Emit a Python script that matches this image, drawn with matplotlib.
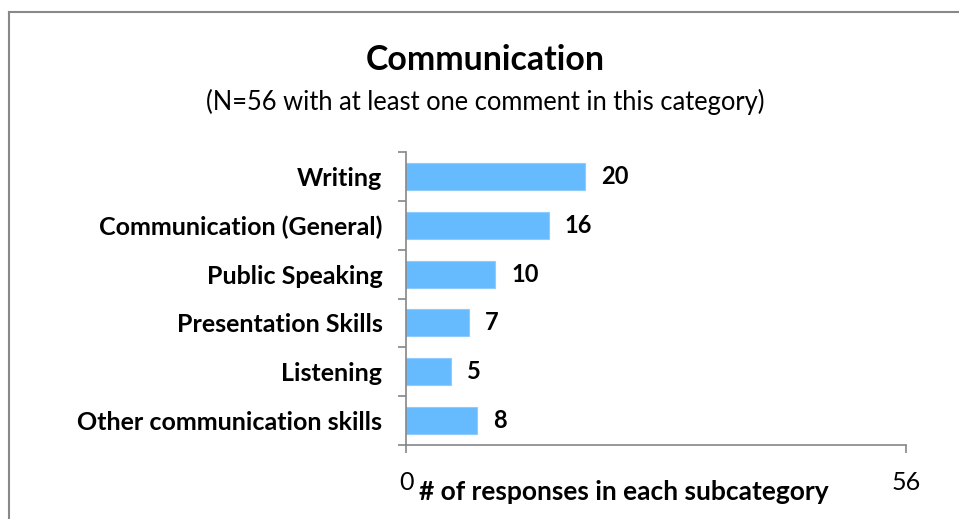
import matplotlib.pyplot as plt
from matplotlib.lines import Line2D

categories = ['Writing', 'Communication (General)', 'Public Speaking',
              'Presentation Skills', 'Listening', 'Other communication skills']
counts = [20, 16, 10, 7, 5, 8]
n_total = 56

plt.rcParams['font.family'] = ['Lato', 'DejaVu Sans']

fig = plt.figure(figsize=(9.59, 5.19), dpi=100)
ax = fig.add_axes([0.4234, 0.1426, 0.5214, 0.5645])

ypos = list(range(len(categories)))
ax.barh(ypos, counts, height=0.55, color='#66BBFF', edgecolor='#8FCBFF', linewidth=0.8)
ax.set_ylim(len(categories) - 0.5, -0.5)
ax.set_xlim(0, n_total)

for y, v in zip(ypos, counts):
    ax.text(v + 1.8, y, str(v), va='center', ha='left', fontsize=17, fontweight='bold')

ax.set_yticks(ypos)
ax.set_yticklabels(categories, fontsize=18, fontweight='bold')
ax.tick_params(axis='y', length=0, pad=17)
# category separator ticks on the left axis
ax.set_yticks([i - 0.5 for i in range(len(categories) + 1)], minor=True)
ax.tick_params(axis='y', which='minor', length=6, color='#868686', width=1.2)

ax.set_xticks([0, n_total])
ax.set_xticklabels(['0', str(n_total)], fontsize=18)
ax.tick_params(axis='x', length=6, color='#868686', width=1.2, pad=13)

for s in ['top', 'right']:
    ax.spines[s].set_visible(False)
for s in ['left', 'bottom']:
    ax.spines[s].set_color('#868686')
    ax.spines[s].set_linewidth(1.2)

fig.text(0.506, 0.884, 'Communication', ha='center', va='center', fontsize=24.4, fontweight='bold')
fig.text(0.506, 0.804, '(N=56 with at least one comment in this category)',
         ha='center', va='center', fontsize=18.4)
fig.text(0.651, 0.052, '# of responses in each subcategory', ha='center', va='center',
         fontsize=19, fontweight='bold')

# outer frame (top and left edges)
fig.add_artist(Line2D([0.0094, 0.999], [0.976, 0.976], color='#888888', lw=1.5,
                      transform=fig.transFigure))
fig.add_artist(Line2D([0.0094, 0.0094], [0.0, 0.976], color='#888888', lw=1.5,
                      transform=fig.transFigure))

fig.savefig('out.png', dpi=100)
